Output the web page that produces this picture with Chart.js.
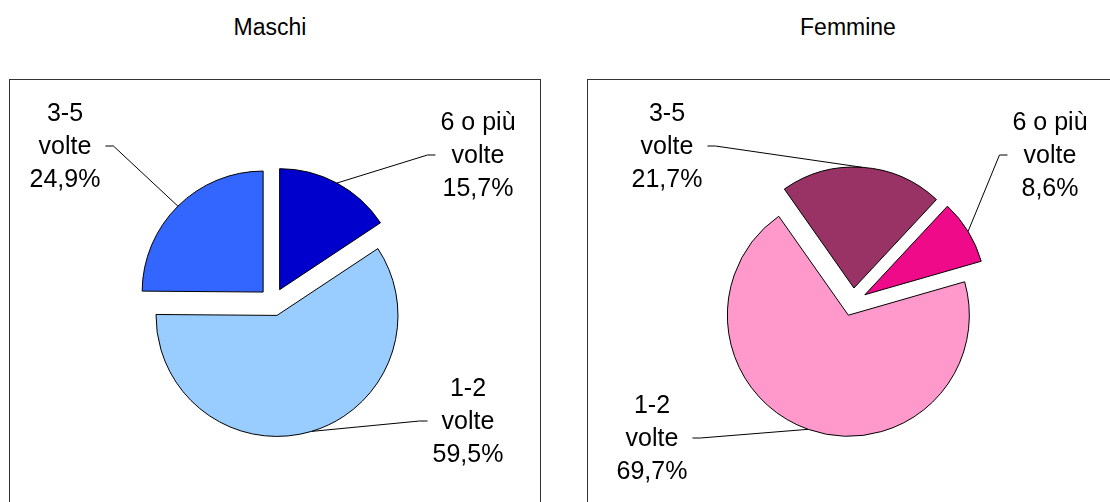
<!DOCTYPE html>
<html lang="it">
<head>
<meta charset="UTF-8">
<title>Maschi / Femmine</title>
<script src="https://cdn.jsdelivr.net/npm/chart.js"></script>
<style>
  body { margin: 0; background: #fff; font-family: "Liberation Sans", Arial, sans-serif; }
  #page { position: relative; width: 1110px; height: 502px; overflow: hidden; }
  .box { position: absolute; top: 79px; height: 440px; border: 1px solid #333; }
  .title { position: absolute; top: 14px; width: 300px; font-size: 23px; line-height: 26px; text-align: center; }
  .holder { position: absolute; top: 0; height: 502px; }
</style>
</head>
<body>
<div id="page">
  <div class="box" style="left:9px; width:530px"></div>
  <div class="box" style="left:587px; width:600px"></div>
  <div class="title" style="left:120px">Maschi</div>
  <div class="title" style="left:698px">Femmine</div>
  <div class="holder" style="left:0; width:560px"><canvas id="maschi"></canvas></div>
  <div class="holder" style="left:560px; width:550px"><canvas id="femmine"></canvas></div>
</div>

<script>
  // categorie (in ordine orario partendo dalla prima fetta)
  const categories = [['6 o più', 'volte'], ['1-2', 'volte'], ['3-5', 'volte']];
  const maschiValues = [15.7, 59.5, 24.9];
  const femmineValues = [8.6, 69.7, 21.7];

  const maschiColors = ['#0000CC', '#99CCFF', '#3366FF'];
  const femmineColors = ['#EE0A88', '#FF99CC', '#993366'];

  const LINE = 33;
  const fmt = v => v.toFixed(1).replace('.', ',') + '%';

  // sposta ogni fetta lungo la bisettrice (torta esplosa)
  const explode = {
    id: 'explode',
    afterDatasetsUpdate(chart, args, opts) {
      chart.getDatasetMeta(0).data.forEach(arc => {
        const mid = (arc.startAngle + arc.endAngle) / 2;
        arc.x += Math.cos(mid) * opts.distance;
        arc.y += Math.sin(mid) * opts.distance;
      });
    }
  };

  // etichette con linee di richiamo
  const callouts = {
    id: 'callouts',
    afterDatasetsDraw(chart, args, opts) {
      const ctx = chart.ctx;
      const meta = chart.getDatasetMeta(0);
      const values = chart.data.datasets[0].data;
      ctx.save();
      ctx.font = '25px "Liberation Sans", Arial, sans-serif';
      ctx.fillStyle = '#000';
      ctx.strokeStyle = '#000';
      ctx.lineWidth = 1;
      ctx.textAlign = 'center';
      meta.data.forEach((arc, i) => {
        const lines = chart.data.labels[i].concat(fmt(values[i]));
        const [lx, ly] = opts.positions[i];
        const w = Math.max(...lines.map(t => ctx.measureText(t).width));
        lines.forEach((t, k) => ctx.fillText(t, lx, ly + k * LINE));

        const mid = (arc.startAngle + arc.endAngle) / 2;
        const ex = arc.x + Math.cos(mid) * arc.outerRadius;
        const ey = arc.y + Math.sin(mid) * arc.outerRadius;
        const left = ex < lx;
        const sx = left ? lx - w / 2 - 5 : lx + w / 2 + 5;
        const sy = ly + LINE - 8;
        const tx = left ? sx - 8 : sx + 8;
        ctx.beginPath();
        ctx.moveTo(sx, sy);
        ctx.lineTo(tx, sy);
        ctx.lineTo(ex, ey);
        ctx.stroke();
      });
      ctx.restore();
    }
  };

  function makePie(id, values, colors, rotation, padding, positions) {
    return new Chart(document.getElementById(id), {
      type: 'pie',
      data: {
        labels: categories,
        datasets: [{
          data: values,
          backgroundColor: colors,
          borderColor: '#000',
          borderWidth: 1
        }]
      },
      options: {
        responsive: true,
        maintainAspectRatio: false,
        animation: false,
        events: [],
        rotation: rotation,
        radius: 121,
        layout: { padding: padding },
        plugins: {
          legend: { display: false },
          tooltip: { enabled: false },
          explode: { distance: 14 },
          callouts: { positions: positions }
        }
      },
      plugins: [explode, callouts]
    });
  }

  makePie('maschi', maschiValues, maschiColors, 0,
    { left: 0, right: 14, top: 102, bottom: 0 },
    [[478, 130], [468, 396], [65, 121]]);

  makePie('femmine', femmineValues, femmineColors, 43,
    { left: 36, right: 0, top: 102, bottom: 0 },
    [[490, 130], [92, 413], [107, 121]]);
</script>
</body>
</html>
